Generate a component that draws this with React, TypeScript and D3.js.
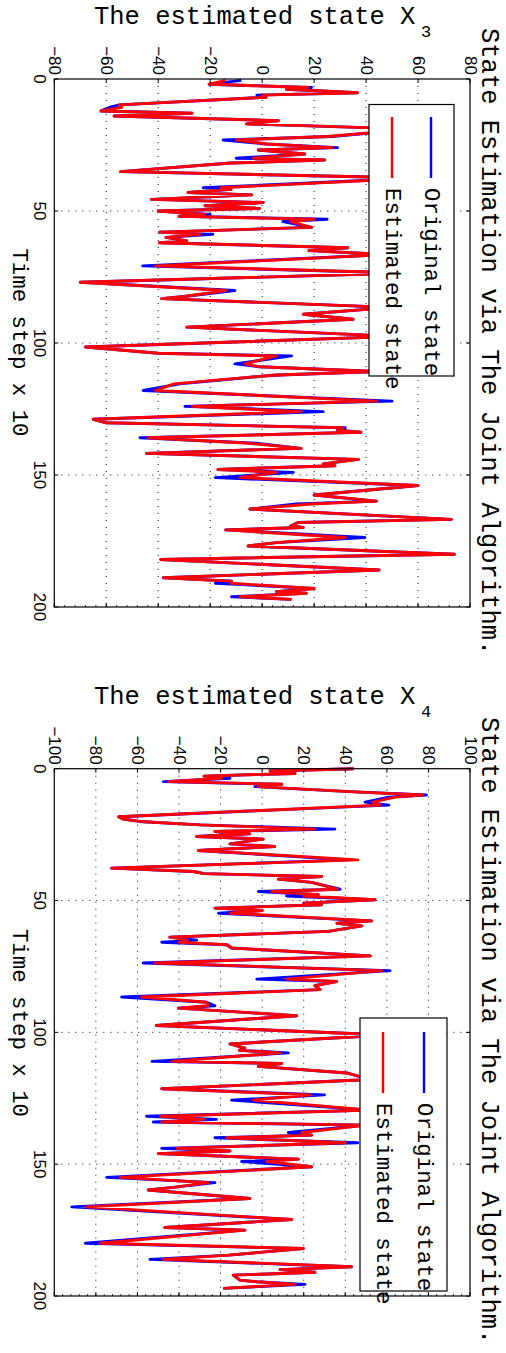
import React from 'react';
import * as d3 from 'd3';

// ---------- data ----------
const timeTicks = [0, 50, 100, 150, 200];
const valueTicks3 = [-80, -60, -40, -20, 0, 20, 40, 60, 80];
const valueTicks4 = [-100, -80, -60, -40, -20, 0, 20, 40, 60, 80, 100];
const legendLabels = ['Original state', 'Estimated state'];
const seriesColors = ['#0000ff', '#ff0000'];
const titleText = 'State Estimation via The Joint Algorithm.';
const xLabelText = 'Time step x 10';
const yLabelText = 'The estimated state X';

// X3 panel
const time3 = [0.5, 2.0, 3.2, 3.9, 5.2, 6.1, 6.9, 9.8, 10.7, 12.1, 13.0, 14.0, 15.8, 17.0, 19.0, 21.8, 23.1, 24.6, 26.0, 26.9, 28.4, 30.0, 30.7, 31.8, 35.1, 37.5, 41.2, 41.8, 43.0, 43.9, 45.6, 46.8, 48.0, 49.0, 50.0, 51.3, 52.0, 53.1, 54.0, 56.2, 58.0, 58.8, 60.0, 61.3, 62.0, 63.9, 65.0, 66.5, 70.8, 73.5, 77.0, 80.1, 82.4, 83.2, 86.5, 89.1, 91.0, 94.0, 97.5, 101.5, 103.9, 104.9, 107.9, 109.0, 110.8, 112.2, 115.5, 118.0, 122.0, 124.0, 126.0, 128.9, 130.2, 132.1, 133.0, 133.8, 135.9, 138.0, 139.9, 141.8, 144.1, 145.8, 146.5, 147.9, 149.0, 151.0, 154.0, 157.6, 159.9, 161.0, 162.9, 166.8, 168.0, 169.3, 169.9, 170.8, 173.7, 175.6, 176.9, 180.0, 182.0, 186.0, 188.9, 190.2, 191.0, 193.0, 194.2, 194.8, 196.1, 197.1];
const est3 = [-14, -20.4, 17.5, 9.4, 36.7, 0, 1.5, -55, -54, -62, -27, -57, 6.2, -6, 58, 25, -10, 1.7, 27, -1.5, 16.4, -3.5, 24, -12, -54.5, 60, -16, -12, -28.5, -4, -42.6, 0.4, -22, -1, -40, -22, -32, 20, 11, 19, -39.4, -24, -37, -29, -39.6, 33, 18, 48, -41, 55, -70, -14, -30, -38.7, 50, 15.8, 35, -29, 52, -68, -40, 5.5, -6.7, -1, 44, 4, -34, -41, 44, -27, 15, -65, -60, 31, 29, 38, -44, -5, 15, -44.5, 37, 23.5, 28, -17, 5.5, -8.6, 60, 20, 44, 19, -4.7, 72.8, 13.8, 11, 15.8, -14, 32, 5.5, -5.4, 74, -39, 45, -38, -11.8, -12, 20, 5.5, 17, -8.6, 11.3];
const orig3 = [-8, -20.4, 19, 9.4, 36.7, -2, 1.5, -55, -58.6, -62, -27, -57, 6.2, -6, 58, 27, -15, 1.7, 29, -1.5, 16.4, -10, 24, -12, -54.5, 60, -22.7, -12, -28.5, -4, -42.6, 0.4, -22, -1, -40, -20, -32, 25, 8, 19, -39.4, -19, -37, -29, -39.6, 33, 18, 48, -46, 55, -70, -10.5, -30, -38.7, 50, 15.8, 35, -29, 52, -68, -40, 11.3, -10.5, -1, 44, 4, -31.7, -45.8, 50, -29.7, 23.5, -65, -60, 32, 29, 38, -47, -1.5, 15, -44.5, 37, 23.5, 28, -17, 12, -18, 60, 20, 44, 13, -4.7, 72.8, 13.8, 11, 15.8, -14, 39.5, 5.5, -5.4, 74, -39, 45, -38, -11.8, -18, 20, 5.5, 17, -11.8, 11.3];

// X4 panel
const time4 = [0.0, 0.9, 1.8, 2.8, 3.6, 4.9, 5.9, 6.8, 8.7, 10.0, 10.8, 12.7, 13.8, 18.2, 19.1, 20.0, 21.3, 22.9, 23.8, 24.7, 25.7, 26.7, 28.5, 29.5, 31.0, 34.6, 37.7, 39.0, 39.8, 40.9, 41.9, 43.1, 45.7, 46.6, 47.8, 48.3, 49.7, 51.0, 51.6, 52.9, 53.8, 54.8, 57.7, 58.6, 59.6, 61.7, 63.9, 65.0, 65.8, 66.8, 68.0, 71.0, 73.7, 76.6, 79.8, 80.7, 82.3, 83.8, 86.6, 88.6, 89.9, 90.8, 93.7, 97.4, 101.0, 104.4, 106.0, 106.8, 107.8, 111.0, 111.8, 112.9, 115.4, 117.9, 121.4, 123.7, 125.7, 129.5, 131.8, 133.0, 134.0, 135.2, 138.0, 139.0, 140.0, 141.9, 144.0, 145.0, 146.0, 148.1, 149.0, 151.0, 155.0, 157.0, 158.8, 159.8, 163.0, 166.2, 171.0, 174.0, 175.0, 180.0, 182.0, 184.5, 186.1, 188.9, 190.0, 191.0, 192.1, 194.0, 194.6, 195.6, 197.1];
const est4 = [44, 3.8, 15.8, -28, -19.5, -45, 9.4, -2, 42, 77, 64, 53, 57, -69, -67, -59, -30, 25.4, -22.7, -6, -31.5, 0.5, -15.5, 6, -30.7, 46, -72.4, -33, -28, 28.6, 7.8, 23.8, 36, 4.6, 27, 20, 54.3, 20, 28.6, -22.7, 0, -15.5, 52.7, 36, 48, 31.8, -44.4, -36, -40, -17, -14.7, 52, -51.6, 57.5, 11.8, 35.8, 25.4, 27.8, -58, -26.7, -26, -40.3, 16.6, -51, 60, -15.5, -8.3, -11, 8.6, -43.5, 9.4, -1.8, 40.7, 52, -48.3, 23, -4.3, 52, -49, -28, -48.3, 50, 19, 23.8, -17, 40, -41, -15.5, -50, 17.4, 2.2, 23.8, -68.4, -26, -42.8, -54.8, -5.9, -84.5, 14.2, -46.8, -8.3, -78, 19.8, -16, -47.6, 43, 8.6, 25.4, -13.9, -10.7, -2.6, 15.8, -18.7];
const orig4 = [44, 3.8, 15.8, -28, -15.5, -47.5, 9.4, -3.5, 42, 79, 61, 49.5, 61, -69, -67, -59, -30, 35, -22.7, -6, -31.5, 0.5, -15.5, 6, -30.7, 41.5, -72.4, -33, -28, 28.6, 7.8, 23.8, 37.5, -1.8, 27, 11.8, 54.3, 20, 28.6, -22.7, 0, -21, 52.7, 36, 48, 31.8, -44.4, -31.5, -48.3, -17, -14.7, 52, -57.2, 61.5, -2.6, 35.8, 25.4, 27.8, -67.6, -26.7, -22.7, -40.3, 16.6, -51, 60, -15.5, -8.3, -11, 12.6, -53, 9.4, -1.8, 40.7, 52, -48.3, 30, -14.7, 52, -55.6, -22, -52.4, 50, 12.6, 23.8, -22.7, 46, -48.3, -15.5, -50, 17.4, -9.9, 23.8, -74.8, -22.7, -42.8, -54.8, -5.9, -91.6, 14.2, -46.8, -8.3, -85, 19.8, -16, -54, 43, 8.6, 25.4, -13.9, -10.7, -2.6, 20.6, -18.7];

// ---------- layout ----------
const W = 506;
const H = 1353;
const PLOT_X0 = 54.3;
const PLOT_X1 = 470;
const MONO = '"Liberation Mono", "Courier New", monospace';
const SANS = '"Liberation Sans", Arial, sans-serif';

type Pt = { t: number; v: number };

interface PanelProps {
  y0: number;
  y1: number;
  domain: [number, number];
  vTicks: number[];
  times: number[];
  orig: number[];
  est: number[];
  sub: string;
  titleY: number;
  yLabelY: number;
  xLabelY: number;
  legend: { x: number; y: number; w: number; h: number; bx: number; rx: number; l0: number; l1: number; ty: number };
}

function Rot({ x, y, anchor, size, family, baseline, children }: any) {
  return (
    <text
      transform={`translate(${x},${y}) rotate(90)`}
      textAnchor={anchor}
      fontSize={size}
      fontFamily={family}
      dominantBaseline={baseline || 'alphabetic'}
      fill="#000"
    >
      {children}
    </text>
  );
}

function Panel(p: PanelProps) {
  const tS = d3.scaleLinear().domain([0, 200]).range([p.y0, p.y1]);
  const vS = d3.scaleLinear().domain(p.domain).range([PLOT_X0, PLOT_X1]);
  const mk = (vals: number[]): Pt[] => p.times.map((t, i) => ({ t, v: vals[i] }));
  const line = d3
    .line<Pt>()
    .x((d) => vS(d.v))
    .y((d) => tS(d.t));
  const step = (p.vTicks[1] - p.vTicks[0]) / 5;
  const minor = d3.range(p.domain[0], p.domain[1] + 0.001, step);
  const L = p.legend;
  return (
    <g>
      {/* grid */}
      {p.vTicks.slice(1, -1).map((v) => (
        <line key={'gv' + v} x1={vS(v)} x2={vS(v)} y1={p.y0} y2={p.y1} stroke="#111" strokeWidth={1} strokeDasharray="1,6" />
      ))}
      {timeTicks.slice(1, -1).map((t) => (
        <line key={'gt' + t} x1={PLOT_X0} x2={PLOT_X1} y1={tS(t)} y2={tS(t)} stroke="#111" strokeWidth={1} strokeDasharray="1,6" />
      ))}
      {/* series */}
      <path d={line(mk(p.orig)) || ''} fill="none" stroke={seriesColors[0]} strokeWidth={2.9} strokeLinejoin="round" />
      <path d={line(mk(p.est)) || ''} fill="none" stroke={seriesColors[1]} strokeWidth={2.9} strokeLinejoin="round" />
      {/* axes box */}
      <rect x={PLOT_X0} y={p.y0} width={PLOT_X1 - PLOT_X0} height={p.y1 - p.y0} fill="none" stroke="#000" strokeWidth={1.2} />
      {p.vTicks.map((v) => (
        <g key={'tk' + v}>
          <line x1={vS(v)} x2={vS(v)} y1={p.y0} y2={p.y0 + 4} stroke="#000" />
          <line x1={vS(v)} x2={vS(v)} y1={p.y1} y2={p.y1 - 4} stroke="#000" />
        </g>
      ))}
      {minor.map((v, i) => (
        <line key={'mn' + i} x1={vS(v)} x2={vS(v)} y1={p.y1} y2={p.y1 - 2} stroke="#000" strokeWidth={0.8} />
      ))}
      {timeTicks.map((t) => (
        <g key={'tt' + t}>
          <line x1={PLOT_X0} x2={PLOT_X0 + 4} y1={tS(t)} y2={tS(t)} stroke="#000" />
          <line x1={PLOT_X1} x2={PLOT_X1 - 4} y1={tS(t)} y2={tS(t)} stroke="#000" />
        </g>
      ))}
      {/* tick labels */}
      {p.vTicks.map((v) => (
        <Rot key={'vl' + v} x={vS(v)} y={p.y0 - 4} anchor="end" size={17} family={SANS} baseline="central">
          {v < 0 ? '\u2212' + Math.abs(v) : String(v)}
        </Rot>
      ))}
      {timeTicks.map((t) => (
        <Rot key={'tl' + t} x={34} y={tS(t)} anchor="middle" size={17} family={SANS}>
          {String(t)}
        </Rot>
      ))}
      {/* labels */}
      <Rot x={13} y={p.xLabelY} anchor="middle" size={22.4} family={MONO}>
        {xLabelText}
      </Rot>
      <Rot x={482} y={p.titleY} anchor="start" size={25.5} family={MONO}>
        {titleText}
      </Rot>
      <text x={94} y={p.yLabelY} fontSize={25.5} fontFamily={MONO} fill="#000">
        {yLabelText}
      </text>
      <text x={421} y={p.yLabelY + 13} fontSize={17} fontFamily={MONO} fill="#000">
        {p.sub}
      </text>
      {/* legend */}
      <rect x={L.x} y={L.y} width={L.w} height={L.h} fill="#fff" stroke="#000" strokeWidth={1.2} />
      <line x1={L.bx} x2={L.bx} y1={L.l0} y2={L.l1} stroke={seriesColors[0]} strokeWidth={2.4} />
      <line x1={L.rx} x2={L.rx} y1={L.l0} y2={L.l1} stroke={seriesColors[1]} strokeWidth={2.4} />
      <Rot x={L.bx - 6} y={L.ty} anchor="start" size={22.4} family={MONO}>
        {legendLabels[0]}
      </Rot>
      <Rot x={L.rx - 6} y={L.ty} anchor="start" size={22.4} family={MONO}>
        {legendLabels[1]}
      </Rot>
    </g>
  );
}

export default function App() {
  return (
    <svg
      width={W}
      height={H}
      viewBox={`0 0 ${W} ${H}`}
      style={{ position: 'absolute', left: 0, top: 0, background: '#fff', display: 'block' }}
    >
      <rect x={0} y={0} width={W} height={H} fill="#fff" />
      <Panel
        y0={79}
        y1={607}
        domain={[-80, 80]}
        vTicks={valueTicks3}
        times={time3}
        orig={orig3}
        est={est3}
        sub="3"
        titleY={28}
        yLabelY={24}
        xLabelY={342.5}
        legend={{ x: 369, y: 104.5, w: 85, h: 271.5, bx: 431, rx: 392, l0: 117, l1: 178, ty: 188 }}
      />
      <Panel
        y0={768.7}
        y1={1296}
        domain={[-100, 100]}
        vTicks={valueTicks4}
        times={time4}
        orig={orig4}
        est={est4}
        sub="4"
        titleY={717}
        yLabelY={704}
        xLabelY={1023}
        legend={{ x: 360, y: 1018, w: 87, h: 273, bx: 424, rx: 383, l0: 1032, l1: 1093, ty: 1103 }}
      />
    </svg>
  );
}
